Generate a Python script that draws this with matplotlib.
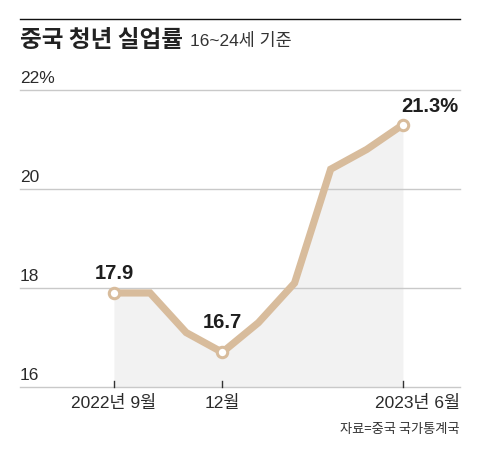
import matplotlib
matplotlib.use('Agg')
import matplotlib.pyplot as plt
import matplotlib.transforms as mtransforms

months = ['2022년 9월', '10월', '11월', '12월', '1월', '2월', '3월', '4월', '5월', '2023년 6월']
rates = [17.9, 17.9, 17.1, 16.7, 17.3, 18.1, 20.4, 20.8, 21.3]
y_ticks = [16, 18, 20, 22]
y_labels = ['16', '18', '20', '22%']
x_tick_pos = [0, 3, 8]
x_tick_labels = ['2022년 9월', '12월', '2023년 6월']
marked = [0, 3, 8]
marked_labels = ['17.9', '16.7', '21.3%']

fam = ['Liberation Sans', 'Noto Sans CJK KR', 'DejaVu Sans']
plt.rcParams['font.family'] = fam

line_col = '#d8bc9c'
grid_col = '#c9c9c9'
txt_col = '#2a2a2a'

fig = plt.figure(figsize=(4.8, 4.51), dpi=100)
ax = fig.add_axes([20/480, 1 - 387/451, 440/480, 297/451])
x = list(range(len(rates)))

ax.fill_between(x, rates, 16, color='#f2f2f2', lw=0, zorder=1)
for v in y_ticks:
    ax.axhline(v, color=grid_col, lw=1, zorder=2, clip_on=False)
ax.plot(x, rates, color=line_col, lw=5.2, solid_joinstyle='miter', solid_capstyle='butt', zorder=3)
ax.plot([x[i] for i in marked], [rates[i] for i in marked], 'o', ms=7.5,
        mfc='white', mec=line_col, mew=2.2, zorder=4)

ax.set_xlim(-2.6, 9.58)
ax.set_ylim(16, 22)
ax.axis('off')

trans = mtransforms.blended_transform_factory(ax.transAxes, ax.transData)
up = mtransforms.ScaledTranslation(0, 4/100, fig.dpi_scale_trans)
for v, lab in zip(y_ticks, y_labels):
    ax.text(0, v, lab, transform=trans + up, ha='left', va='bottom', fontsize=12.5,
            color=txt_col)

# short ticks pointing up from the baseline
for p in x_tick_pos:
    ax.plot([p, p], [16, 16.13], color='#333333', lw=1, zorder=5, clip_on=False)

for p, lab in zip(x_tick_pos, x_tick_labels):
    if p == x_tick_pos[-1]:
        ax.text(1, 15.67, lab, transform=trans, ha='right', va='center', fontsize=12.5, color=txt_col)
    else:
        ax.text(p, 15.67, lab, ha='center', va='center', fontsize=12.5, color=txt_col)

offsets = [(0, 0.4), (0, 0.6), (0.75, 0.37)]
for i, lab, (dx, dy) in zip(marked, marked_labels, offsets):
    ax.text(x[i] + dx, rates[i] + dy, lab, ha='center', va='center', fontsize=14.5,
            fontweight='bold', color='#1e1e1e')

fig.add_artist(plt.Line2D([20/480, 460/480], [1 - 19/451, 1 - 19/451], color='#111111', lw=1))
fig.text(20/480, 1 - 40/451, '중국 청년 실업률', fontsize=17, fontweight='bold',
         family=['Noto Sans CJK KR'], va='center', ha='left', color='#222222')
fig.text(190/480, 1 - 41/451, '16~24세 기준', fontsize=12.5, va='center', ha='left', color='#333333')
fig.text(460/480, 1 - 430/451, '자료=중국 국가통계국', fontsize=9.5, va='center', ha='right',
         color='#333333', family=['Noto Sans CJK KR'])

fig.savefig('out.png', dpi=100)
